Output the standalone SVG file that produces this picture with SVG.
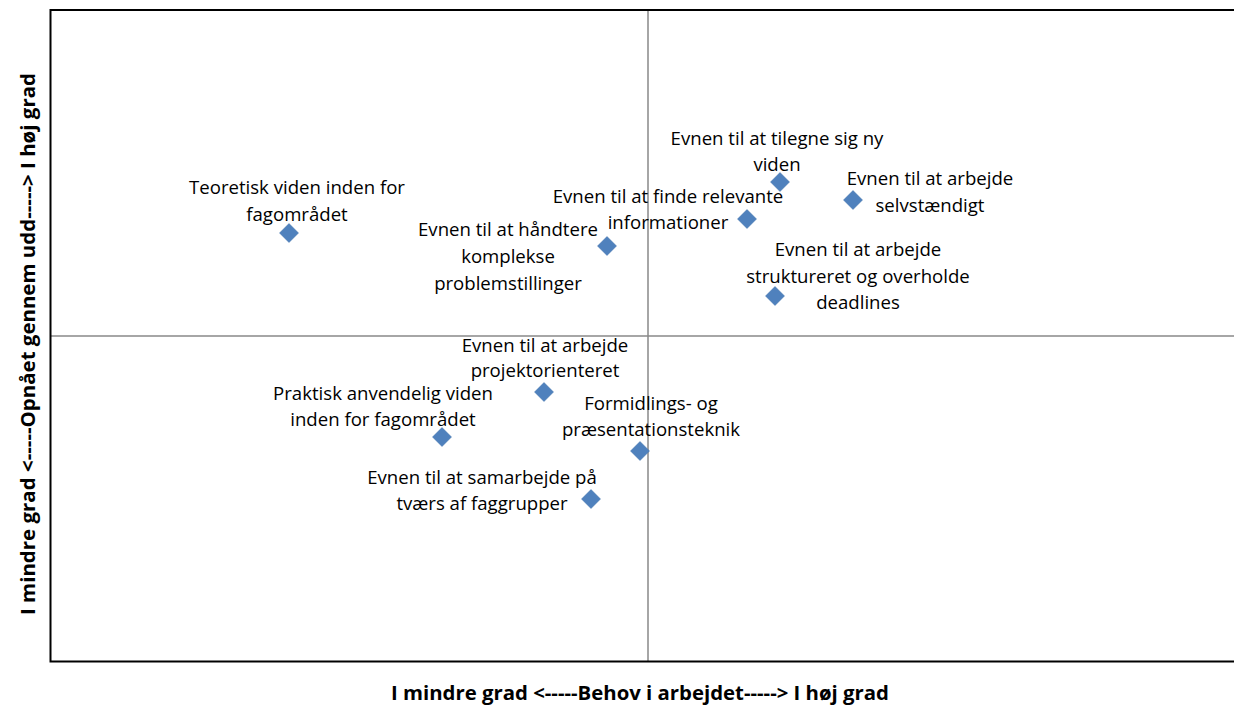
<svg xmlns="http://www.w3.org/2000/svg" width="1234" height="706" viewBox="0 0 1234 706">
<style>
.lbl{font-family:"Open Sans","Liberation Sans",Arial,sans-serif;font-size:18.6px;fill:#000;text-anchor:middle}
.ax{font-family:"Open Sans","Liberation Sans",Arial,sans-serif;font-size:19px;font-weight:bold;fill:#000;text-anchor:middle}
.pt{fill:#4f81bd;stroke:#3c6ea8;stroke-width:0.5}
.grid{stroke:#888;stroke-width:1.5;fill:none}
.frame{stroke:#000;stroke-width:2;fill:none}
</style>
<defs>
<path id="dm" class="pt" d="M0,-9.5 L9.5,0 L0,9.5 L-9.5,0 Z"/>
</defs>
<rect width="1234" height="706" fill="#fff"/>
<g id="gridlines">
<line class="grid" x1="50" y1="336" x2="1234" y2="336"/>
<line class="grid" x1="648" y1="10" x2="648" y2="662"/>
</g>
<g id="frame">
<path class="frame" d="M1234,10 L50.5,10 L50.5,661.5 L1234,661.5"/>
</g>
<g id="axis-labels">
<text class="ax" x="640" y="700" textLength="498" lengthAdjust="spacingAndGlyphs">I mindre grad &lt;-----Behov i arbejdet-----&gt; I høj grad</text>
<text class="ax" transform="translate(35,344) rotate(-90)" x="0" y="0" textLength="542" lengthAdjust="spacingAndGlyphs">I mindre grad &lt;-----Opnået gennem udd-----&gt; I høj grad</text>
</g>
<g id="n1"><use href="#dm" x="289" y="233"/><text class="lbl" x="297" y="194">Teoretisk viden inden for</text><text class="lbl" x="297" y="221">fagområdet</text></g>
<g id="n2"><use href="#dm" x="607" y="246"/><text class="lbl" x="508" y="236">Evnen til at håndtere</text><text class="lbl" x="508" y="263">komplekse</text><text class="lbl" x="508" y="290">problemstillinger</text></g>
<g id="n3"><use href="#dm" x="780" y="182"/><text class="lbl" x="777" y="145">Evnen til at tilegne sig ny</text><text class="lbl" x="777" y="171">viden</text></g>
<g id="n4"><use href="#dm" x="747" y="219"/><text class="lbl" x="668" y="203">Evnen til at finde relevante</text><text class="lbl" x="668" y="229">informationer</text></g>
<g id="n5"><use href="#dm" x="853" y="200"/><text class="lbl" x="930" y="185">Evnen til at arbejde</text><text class="lbl" x="930" y="212">selvstændigt</text></g>
<g id="n6"><use href="#dm" x="775" y="296"/><text class="lbl" x="858" y="256">Evnen til at arbejde</text><text class="lbl" x="858" y="283">struktureret og overholde</text><text class="lbl" x="858" y="309">deadlines</text></g>
<g id="n7"><use href="#dm" x="544" y="392"/><text class="lbl" x="545" y="352">Evnen til at arbejde</text><text class="lbl" x="545" y="377">projektorienteret</text></g>
<g id="n8"><use href="#dm" x="442" y="437"/><text class="lbl" x="383" y="400">Praktisk anvendelig viden</text><text class="lbl" x="383" y="426">inden for fagområdet</text></g>
<g id="n9"><use href="#dm" x="640" y="451"/><text class="lbl" x="651" y="410">Formidlings- og</text><text class="lbl" x="651" y="436">præsentationsteknik</text></g>
<g id="n10"><use href="#dm" x="591" y="499"/><text class="lbl" x="482" y="484">Evnen til at samarbejde på</text><text class="lbl" x="482" y="510">tværs af faggrupper</text></g>
</svg>
